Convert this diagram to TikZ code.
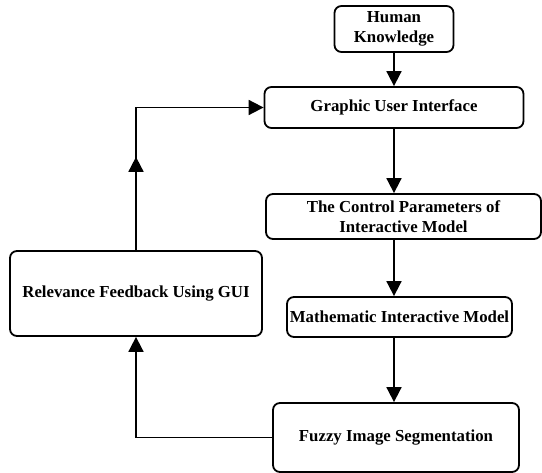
\documentclass[tikz,border=0pt]{standalone}
\usepackage{fontspec}
\setmainfont{Liberation Serif}
\usetikzlibrary{arrows.meta,decorations.markings}

\begin{document}
\begin{tikzpicture}[
	x=1pt, y=-1pt,
	box/.style={draw, line width=1.8pt, rounded corners=7pt, align=center, inner sep=0pt, font=\bfseries\fontsize{16.8}{19.5}\selectfont},
	arrow/.style={-{Triangle[length=15pt,width=15pt]}, line width=1.8pt},
	midarrow/.style={postaction={decorate}, decoration={markings, mark=at position 0.345 with {\arrow{Triangle[length=15pt,width=15pt]}}}}
]
\useasboundingbox (0,0) rectangle (542,473);

\node[box, minimum width=119pt, minimum height=46pt] (human) at (394,29) {Human\\Knowledge};
\node[box, minimum width=259pt, minimum height=41pt] (gui) at (394,107.5) {Graphic User Interface};
\node[box, minimum width=275pt, minimum height=45pt] (ctrl) at (403.5,216.5) {The Control Parameters of\\Interactive Model};
\node[box, minimum width=225pt, minimum height=40pt] (model) at (399.5,317) {Mathematic Interactive Model};
\node[box, minimum width=246pt, minimum height=69pt] (fuzzy) at (396,437.5) {Fuzzy Image Segmentation};
\node[box, minimum width=252pt, minimum height=85pt] (feedback) at (136,293.5) {Relevance Feedback Using GUI};

\draw[arrow] (human) -- (gui);
\draw[arrow] (gui.south) -- (ctrl.north -| gui.south);
\draw[arrow] (ctrl.south -| gui.south) -- (model.north -| gui.south);
\draw[arrow] (model.south -| gui.south) -- (fuzzy.north -| gui.south);
\draw[arrow] (fuzzy.west) -| (feedback.south);
\draw[arrow, midarrow] (feedback.north) |- (gui.west);
\end{tikzpicture}
\end{document}
